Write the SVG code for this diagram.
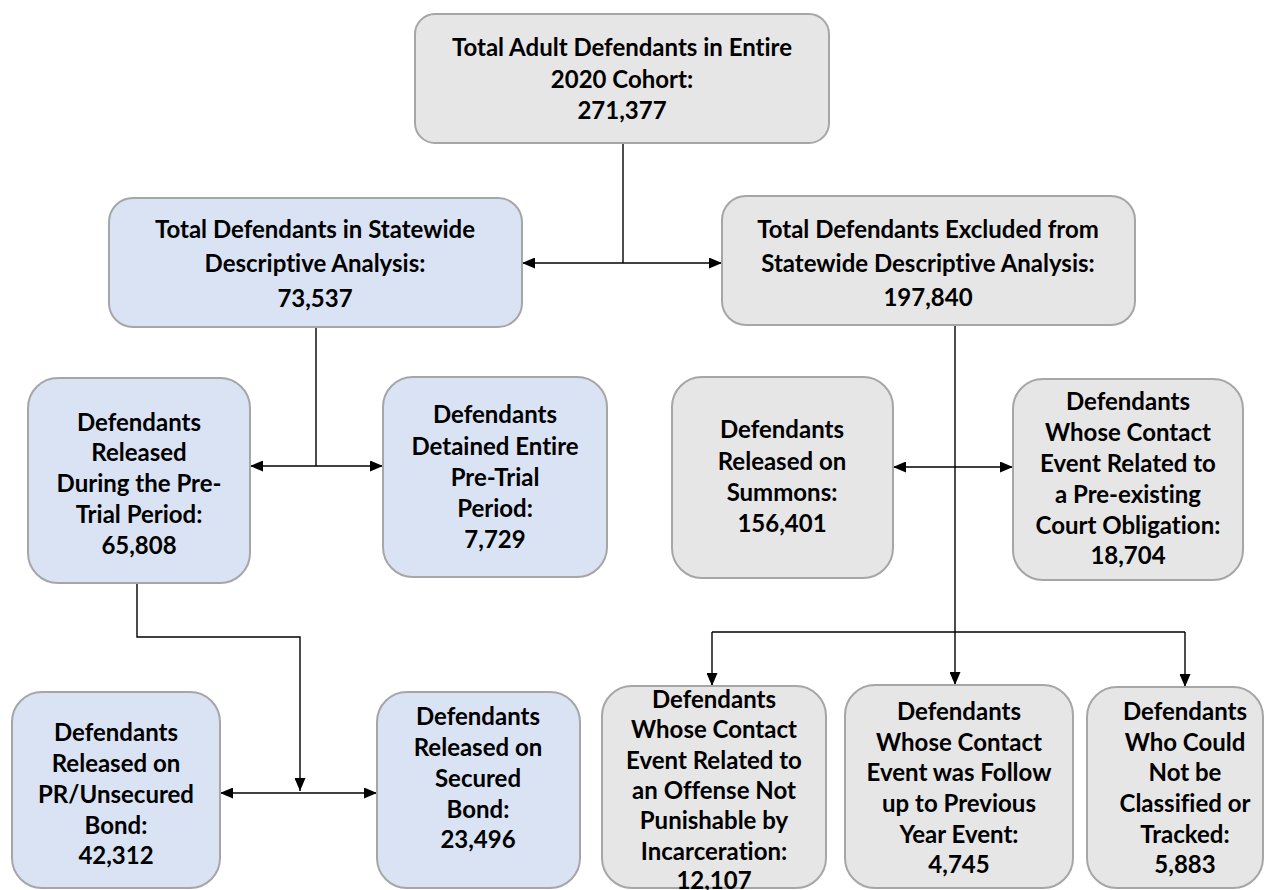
<svg xmlns="http://www.w3.org/2000/svg" width="1268" height="890" viewBox="0 0 1268 890">
<defs>
<style>
.box{stroke:#a6a6a6;stroke-width:2}
.blue{fill:#dae3f3}
.gray{fill:#e6e6e6}
.t{font-family:Lato,"Open Sans","Liberation Sans",sans-serif;font-weight:bold;font-size:24px;fill:#000;text-anchor:middle;font-variant-ligatures:none}
.c{fill:none;stroke:#000;stroke-width:1.4}
</style>
<marker id="ah" viewBox="0 0 13 11" refX="13" refY="5.5" markerWidth="13" markerHeight="11" markerUnits="userSpaceOnUse" orient="auto">
<path d="M0,0 L13,5.5 L0,11 z" fill="#000"/>
</marker>
</defs>
<rect width="1268" height="890" fill="#fff"/>
<g id="connectors">
<path class="c" d="M623,143 V263"/>
<path class="c" d="M623,263 H522" marker-end="url(#ah)"/>
<path class="c" d="M623,263 H722" marker-end="url(#ah)"/>
<path class="c" d="M316,327 V466"/>
<path class="c" d="M316,466 H250" marker-end="url(#ah)"/>
<path class="c" d="M316,466 H383" marker-end="url(#ah)"/>
<path class="c" d="M955,325 V685" marker-end="url(#ah)"/>
<path class="c" d="M955,467 H893" marker-end="url(#ah)"/>
<path class="c" d="M955,467 H1013" marker-end="url(#ah)"/>
<path class="c" d="M712,632 H1185"/>
<path class="c" d="M712,632 V686" marker-end="url(#ah)"/>
<path class="c" d="M1185,632 V687" marker-end="url(#ah)"/>
<path class="c" d="M137,583 V637 H300 V791" marker-end="url(#ah)"/>
<path class="c" d="M300,793 H220" marker-end="url(#ah)"/>
<path class="c" d="M300,793 H377" marker-end="url(#ah)"/>
</g>
<g id="n1"><rect class="box gray" x="415" y="14" width="414" height="129" rx="20"/>
<text class="t" x="622" y="56">Total Adult Defendants in Entire</text>
<text class="t" x="622" y="88">2020 Cohort:</text>
<text class="t" x="622" y="119">271,377</text></g>
<g id="n2"><rect class="box blue" x="109" y="198" width="413" height="129" rx="24"/>
<text class="t" x="315" y="238">Total Defendants in Statewide</text>
<text class="t" x="315" y="272">Descriptive Analysis:</text>
<text class="t" x="315" y="307">73,537</text></g>
<g id="n3"><rect class="box gray" x="722" y="196" width="413" height="129" rx="24"/>
<text class="t" x="928" y="238">Total Defendants Excluded from</text>
<text class="t" x="928" y="272">Statewide Descriptive Analysis:</text>
<text class="t" x="928" y="306">197,840</text></g>
<g id="n4"><rect class="box blue" x="28" y="378" width="222" height="205" rx="30"/>
<text class="t" x="139" y="431">Defendants</text>
<text class="t" x="139" y="461">Released</text>
<text class="t" x="139" y="492">During the Pre-</text>
<text class="t" x="139" y="523">Trial Period:</text>
<text class="t" x="139" y="554">65,808</text></g>
<g id="n5"><rect class="box blue" x="383" y="377" width="224" height="200" rx="30"/>
<text class="t" x="495" y="423">Defendants</text>
<text class="t" x="495" y="455">Detained Entire</text>
<text class="t" x="495" y="486">Pre-Trial</text>
<text class="t" x="495" y="517">Period:</text>
<text class="t" x="495" y="548">7,729</text></g>
<g id="n6"><rect class="box gray" x="672" y="377" width="221" height="201" rx="30"/>
<text class="t" x="782" y="438">Defendants</text>
<text class="t" x="782" y="470">Released on</text>
<text class="t" x="782" y="501">Summons:</text>
<text class="t" x="782" y="532">156,401</text></g>
<g id="n7"><rect class="box gray" x="1013" y="379" width="230" height="201" rx="30"/>
<text class="t" x="1128" y="410">Defendants</text>
<text class="t" x="1128" y="441">Whose Contact</text>
<text class="t" x="1128" y="472">Event Related to</text>
<text class="t" x="1128" y="503">a Pre-existing</text>
<text class="t" x="1128" y="534">Court Obligation:</text>
<text class="t" x="1128" y="564">18,704</text></g>
<g id="n8"><rect class="box blue" x="12" y="692" width="208" height="196" rx="30"/>
<text class="t" x="116" y="741">Defendants</text>
<text class="t" x="116" y="772">Released on</text>
<text class="t" x="116" y="803">PR/Unsecured</text>
<text class="t" x="116" y="834">Bond:</text>
<text class="t" x="116" y="864">42,312</text></g>
<g id="n9"><rect class="box blue" x="377" y="692" width="203" height="196" rx="30"/>
<text class="t" x="478" y="725">Defendants</text>
<text class="t" x="478" y="756">Released on</text>
<text class="t" x="478" y="787">Secured</text>
<text class="t" x="478" y="818">Bond:</text>
<text class="t" x="478" y="848">23,496</text></g>
<g id="n10"><rect class="box gray" x="602" y="686" width="224" height="202" rx="30"/>
<text class="t" x="714" y="708">Defendants</text>
<text class="t" x="714" y="738">Whose Contact</text>
<text class="t" x="714" y="769">Event Related to</text>
<text class="t" x="714" y="799">an Offense Not</text>
<text class="t" x="714" y="829">Punishable by</text>
<text class="t" x="714" y="860">Incarceration:</text>
<text class="t" x="714" y="889">12,107</text></g>
<g id="n11"><rect class="box gray" x="845" y="685" width="228" height="203" rx="30"/>
<text class="t" x="959" y="720">Defendants</text>
<text class="t" x="959" y="751">Whose Contact</text>
<text class="t" x="959" y="781">Event was Follow</text>
<text class="t" x="959" y="812">up to Previous</text>
<text class="t" x="959" y="843">Year Event:</text>
<text class="t" x="959" y="873">4,745</text></g>
<g id="n12"><rect class="box gray" x="1087" y="687" width="176" height="201" rx="30"/>
<text class="t" x="1185" y="720">Defendants</text>
<text class="t" x="1185" y="751">Who Could</text>
<text class="t" x="1185" y="781">Not be</text>
<text class="t" x="1185" y="812">Classified or</text>
<text class="t" x="1185" y="843">Tracked:</text>
<text class="t" x="1185" y="873">5,883</text></g>
</svg>
